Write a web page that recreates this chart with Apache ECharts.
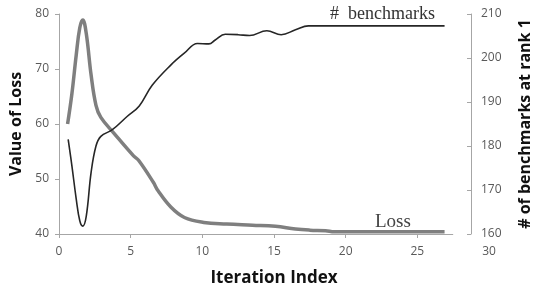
<!DOCTYPE html>
<html>
<head>
<meta charset="utf-8">
<script src="https://cdn.jsdelivr.net/npm/echarts@6/dist/echarts.min.js"></script>
<style>
html,body{margin:0;padding:0;background:#fff;}
#c{width:541px;height:292px;}
</style>
</head>
<body>
<div id="c"></div>
<script>
const xTicks = [0, 5, 10, 15, 20, 25, 30];
const lossTicks = [40, 50, 60, 70, 80];
const benchTicks = [160, 170, 180, 190, 200, 210];

const lossData = [
  [0.6, 60.0], [0.9, 65.5], [1.2, 72.5], [1.45, 77.5], [1.66, 78.9], [1.9, 76.5],
  [2.24, 68.9], [2.58, 63.4], [2.92, 61.2], [3.84, 58.3], [5.2, 54.2], [5.55, 53.4],
  [6.58, 49.4], [6.9, 47.9], [7.8, 44.9], [8.75, 43.0], [10.1, 42.1], [11.7, 41.8],
  [13.5, 41.6], [15.1, 41.4], [16.5, 40.9], [17.5, 40.7], [18.6, 40.6], [19.2, 40.4],
  [21, 40.4], [24, 40.4], [26.9, 40.4]
];
const benchData = [
  [0.64, 181.5], [0.9, 175.5], [1.2, 168], [1.45, 163], [1.66, 161.8], [1.9, 164],
  [2.24, 174], [2.58, 180], [2.92, 182.2], [3.72, 183.7], [4.75, 186.7], [5.6, 189.1],
  [6.5, 193.8], [7.83, 198.5], [8.74, 201.1], [9.66, 203.3], [10.46, 203.2], [10.9, 204.1],
  [11.6, 205.4], [12.5, 205.3], [13.3, 205.1], [14.5, 206.2], [15.5, 205.3], [16.5, 206.4],
  [17.4, 207.3], [20, 207.3], [24, 207.3], [26.9, 207.3]
];
const axisLineEnd = [[0, 40], [27.5, 40]];

const chart = echarts.init(document.getElementById('c'), null, {renderer: 'canvas'});
const labelFont = {color: '#595959', fontSize: 12, fontFamily: 'Open Sans'};
const nameFont = {color: '#111', fontSize: 16, fontWeight: 'bold', fontFamily: 'Open Sans'};
chart.setOption({
  animation: false,
  backgroundColor: '#fff',
  grid: {left: 59, top: 14, bottom: 52, right: 46, containLabel: false},
  xAxis: {
    type: 'value', min: 0, max: 30,
    axisLine: {show: false},
    splitLine: {show: false},
    axisTick: {show: true, length: 4, lineStyle: {color: '#a6a6a6'}, customValues: [0, 5, 10, 15, 20, 25]},
    axisLabel: Object.assign({margin: 12, customValues: xTicks}, labelFont),
    name: 'Iteration Index', nameLocation: 'middle', nameGap: 36,
    nameTextStyle: Object.assign({}, nameFont, {fontSize: 17})
  },
  yAxis: [{
    type: 'value', min: 40, max: 80, interval: 10,
    axisLine: {show: true, lineStyle: {color: '#a6a6a6'}},
    axisTick: {show: true, length: 4, lineStyle: {color: '#a6a6a6'}},
    splitLine: {show: false},
    axisLabel: Object.assign({margin: 10, customValues: lossTicks}, labelFont),
    name: 'Value of Loss', nameLocation: 'middle', nameGap: 34,
    nameTextStyle: nameFont
  }, {
    type: 'value', min: 160, max: 210, interval: 10, position: 'right', offset: -18,
    axisLine: {show: true, lineStyle: {color: '#a6a6a6'}},
    axisTick: {show: true, inside: true, length: 4, lineStyle: {color: '#a6a6a6'}},
    splitLine: {show: false},
    axisLabel: Object.assign({margin: 10, customValues: benchTicks}, labelFont),
    name: '# of benchmarks at rank 1', nameLocation: 'middle', nameGap: 46,
    nameRotate: 90,
    nameTextStyle: nameFont
  }],
  series: [{
    name: 'Loss', type: 'line', yAxisIndex: 0, data: lossData, smooth: 0.4,
    showSymbol: false, symbol: 'none',
    lineStyle: {color: '#7f7f7f', width: 3.5},
    markLine: {
      silent: true, symbol: ['none', 'none'], label: {show: false},
      lineStyle: {color: '#a6a6a6', width: 1, type: 'solid'},
      data: [[{coord: axisLineEnd[0]}, {coord: axisLineEnd[1]}]]
    },
    z: 2
  }, {
    name: '# benchmarks', type: 'line', yAxisIndex: 1, data: benchData, smooth: 0.4,
    showSymbol: false, symbol: 'none',
    lineStyle: {color: '#262626', width: 1.6},
    z: 3
  }],
  graphic: [
    {type: 'text', left: 330, top: 5, style: {text: '#  benchmarks', font: '18px "Liberation Serif"', fill: '#333'}},
    {type: 'text', left: 375, top: 213, style: {text: 'Loss', font: '19px "Liberation Serif"', fill: '#444'}}
  ]
});
</script>
</body>
</html>
